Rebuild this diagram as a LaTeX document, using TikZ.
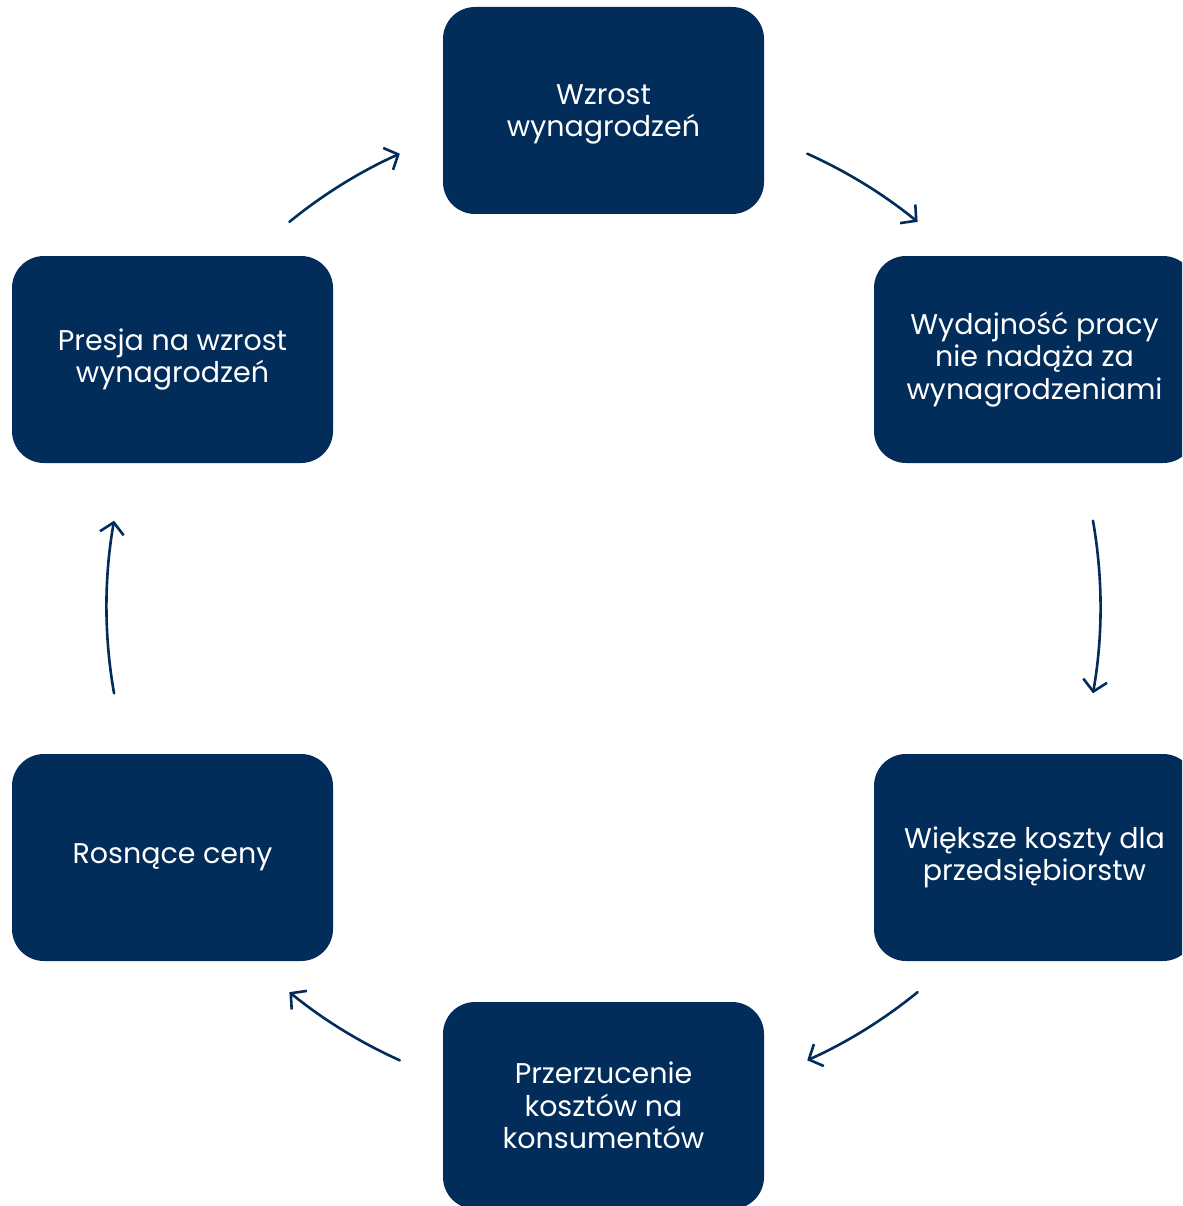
\documentclass[tikz,border=0pt]{standalone}
\usepackage{fontspec}
\setmainfont{Poppins}
\usetikzlibrary{arrows.meta,calc}
\definecolor{navy}{RGB}{2,45,91}
\begin{document}
\begin{tikzpicture}[x=1pt,y=-1pt,
  box/.style={fill=navy, rounded corners=32pt, minimum width=321pt, minimum height=207pt,
    inner sep=0pt, text=white, align=center, font=\fontsize{28.5}{32.5}\selectfont},
  arr/.style={draw=navy, line width=2.6pt, line cap=round, line join=round,
    -{Straight Barb[length=11pt,width=24pt,line width=2.6pt]}}]
\clip (0,0) rectangle (1182,1206);
\fill[white] (0,0) rectangle (1182,1206);
\node[box, text depth=0pt] (b1) at (603.5,110.5) {Wzrost\\wynagrodzeń};
\node[box] (b2) at (1034.5,359.5) {Wydajność pracy\\nie nadąża za\\wynagrodzeniami};
\node[box] (b3) at (1034.5,857.5) {Większe koszty dla\\przedsiębiorstw};
\node[box] (b4) at (603.5,1105.5) {Przerzucenie\\kosztów na\\konsumentów};
\node[box] (b5) at (172.5,857.5) {Rosnące ceny};
\node[box] (b6) at (172.5,359.5) {Presja na wzrost\\wynagrodzeń};
\coordinate (c) at (603.5,607);
\coordinate (s1) at ($(c)+(65.8:497 and -497)$);
\coordinate (s2) at ($(c)+(10:497 and -497)$);
\coordinate (s3) at ($(c)+(-50.8:497 and -497)$);
\coordinate (s4) at ($(c)+(-114.2:497 and -497)$);
\coordinate (s5) at ($(c)+(-170:497 and -497)$);
\coordinate (s6) at ($(c)+(129.2:497 and -497)$);
\draw[arr] (s1) arc[start angle=-65.8, end angle=-50.8, radius=497];
\draw[arr] (s2) arc[start angle=-10, end angle=10, radius=497];
\draw[arr] (s3) arc[start angle=50.8, end angle=65.8, radius=497];
\draw[arr] (s4) arc[start angle=114.2, end angle=129.2, radius=497];
\draw[arr] (s5) arc[start angle=170, end angle=190, radius=497];
\draw[arr] (s6) arc[start angle=-129.2, end angle=-114.2, radius=497];
\end{tikzpicture}
\end{document}
